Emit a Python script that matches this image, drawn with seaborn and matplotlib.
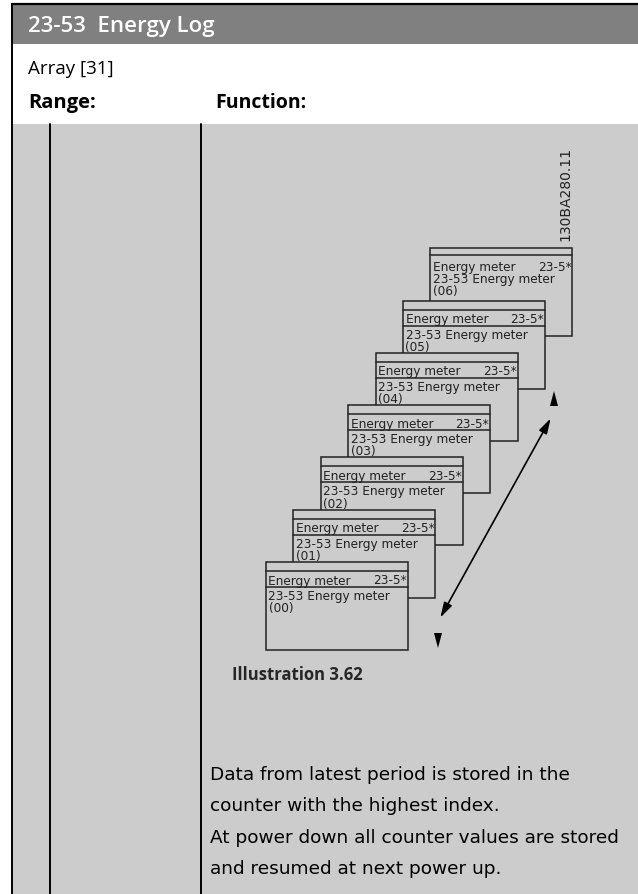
import matplotlib
matplotlib.use("Agg")
import numpy as np
import seaborn as sns
from matplotlib import pyplot as plt
from matplotlib.patches import Rectangle, Polygon, FancyArrowPatch

# data
counter_index = ['00', '01', '02', '03', '04', '05', '06']
box_title = 'Energy meter'
box_group = '23-5*'
box_param = '23-53 Energy meter'
title_text = '23-53  Energy Log'
array_text = 'Array [31]'
col_labels = ['Range:', 'Function:']
caption = 'Illustration 3.62'
drawing_id = '130BA280.11'
body_lines = ['Data from latest period is stored in the',
              'counter with the highest index.',
              'At power down all counter values are stored',
              'and resumed at next power up.']

sns.set_theme(style='white')
plt.rcParams['font.family'] = ['DejaVu Sans']

W, H = 638, 895
fig = plt.figure(figsize=(W / 100, H / 100), dpi=100)
ax = fig.add_axes([0, 0, 1, 1])
ax.set_xlim(0, W)
ax.set_ylim(H, 0)
ax.axis('off')

head_font = ['Open Sans', 'DejaVu Sans']

# page background pieces
ax.add_patch(Rectangle((12, 5), W - 12, 40, facecolor='#808080', edgecolor='none'))
ax.add_patch(Rectangle((12, 45), W - 12, 80, facecolor='white', edgecolor='none'))
ax.add_patch(Rectangle((12, 125), W - 12, H - 125, facecolor='#cccccc', edgecolor='none'))
ax.plot([12, W], [5, 5], color='black', lw=1.6)
ax.plot([12, 12], [5, H], color='black', lw=1.4)
ax.plot([50, 50], [125, H], color='black', lw=1.4)
ax.plot([201, 201], [125, H], color='black', lw=1.4)

ax.text(28, 26, title_text, color='white', fontsize=16, fontweight='semibold',
        family=head_font, va='center', ha='left')
ax.text(28, 69, array_text, color='black', fontsize=13.5, family=head_font,
        va='center', ha='left')
ax.text(28, 103, col_labels[0], color='black', fontsize=14.5, fontweight='bold',
        family=head_font, va='center', ha='left')
ax.text(215, 103, col_labels[1], color='black', fontsize=14, fontweight='bold',
        family=head_font, va='center', ha='left')

# stacked counter boxes, back (06) first so front boxes cover them
x0, y0 = 266, 563
dx, dy = 27.4, -52.3
bw, bh = 142, 88
ink = '#222222'
for i in reversed(range(len(counter_index))):
    bx, by = x0 + i * dx, y0 + i * dy
    z = 3 + (10 - i)
    last = i == len(counter_index) - 1
    ax.add_patch(Rectangle((bx, by), bw, bh, facecolor='#cccccc',
                           edgecolor=ink, lw=1.1, zorder=z - 1))
    ax.plot([bx, bx + bw], [by + (7 if last else 9)] * 2, color=ink, lw=1.1, zorder=z)
    if not last:
        ax.plot([bx, bx + bw], [by + 25, by + 25], color=ink, lw=1.1, zorder=z)
    ax.text(bx + 2.5, by + 21.5, box_title, fontsize=8.7, color=ink, zorder=z)
    ax.text(bx + bw - 1, by + 21.5, box_group, fontsize=8.7, color=ink,
            ha='right', zorder=z)
    ax.text(bx + 2.5, by + (24 if last else 27), box_param + '\n(' + counter_index[i] + ')',
            fontsize=8.7, color=ink, va='top', linespacing=0.92, zorder=z)

# double arrow and end markers
arr = FancyArrowPatch((439, 621), (552, 417), arrowstyle='<|-|>,head_length=9,head_width=2.6',
                      color='black', lw=1.2, zorder=30)
ax.add_patch(arr)
ax.add_patch(Polygon([[550, 407], [558, 407], [554, 392]], closed=True,
                     facecolor='black', edgecolor='none', zorder=30))
ax.add_patch(Polygon([[434, 634], [442, 634], [438, 649]], closed=True,
                     facecolor='black', edgecolor='none', zorder=30))

ax.text(565, 194, drawing_id, rotation=90, fontsize=10, color=ink,
        ha='center', va='center')
ax.text(232, 675, caption, fontsize=12, fontweight='bold', family=head_font,
        va='center', ha='left')

for k, line in enumerate(body_lines):
    ax.text(210, 775 + 31.5 * k, line, fontsize=13.3, color='black',
            va='center', ha='left')

fig.savefig('out.png', dpi=100)
